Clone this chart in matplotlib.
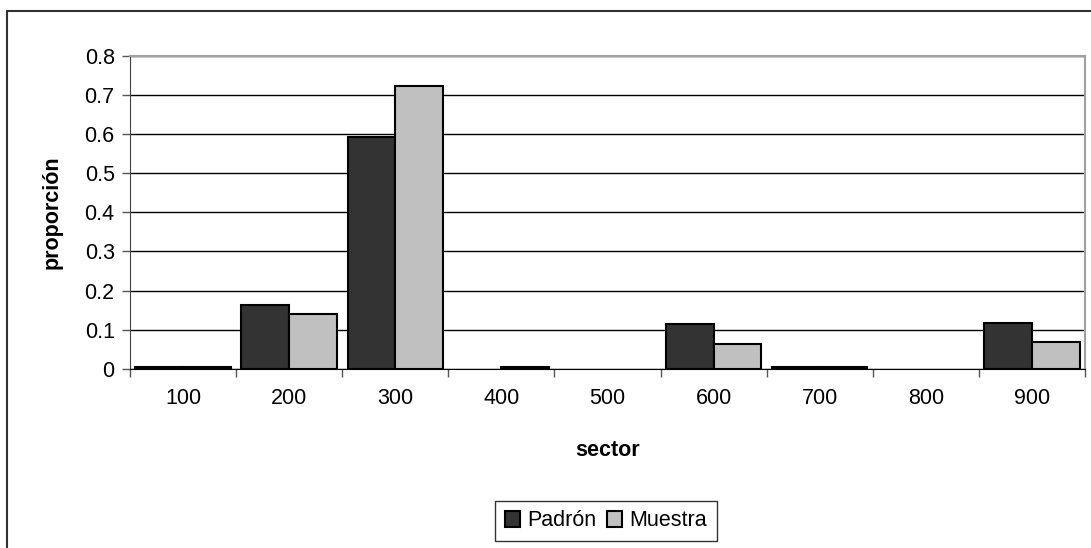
import matplotlib
matplotlib.use("Agg")
import matplotlib.pyplot as plt
import numpy as np
from matplotlib.patches import Rectangle

plt.rcParams['font.family'] = ['Liberation Sans', 'DejaVu Sans']

sectores = ['100', '200', '300', '400', '500', '600', '700', '800', '900']
padron = [0.004, 0.163, 0.591, 0.0, 0.0, 0.114, 0.004, 0.0, 0.118]
muestra = [0.004, 0.140, 0.722, 0.004, 0.0, 0.064, 0.004, 0.0, 0.069]

fig = plt.figure(figsize=(10.91, 5.48), dpi=100)
ax = fig.add_axes([130/1091, 1-369/548, 955/1091, 313.5/548])

x = np.arange(len(sectores))
w = 0.45
# no outline on empty bars
lw_p = [1.5 if v > 0 else 0 for v in padron]
lw_m = [1.5 if v > 0 else 0 for v in muestra]
ax.bar(x - w/2, padron, w, color='#333333', edgecolor='black', linewidth=lw_p,
       label='Padrón', zorder=3)
ax.bar(x + w/2, muestra, w, color='#c0c0c0', edgecolor='black', linewidth=lw_m,
       label='Muestra', zorder=3)

ax.set_xlim(-0.5, len(sectores) - 0.5)
ax.set_ylim(0, 0.8)
ax.set_yticks(np.arange(0, 0.81, 0.1))
ax.set_yticklabels(['0', '0.1', '0.2', '0.3', '0.4', '0.5', '0.6', '0.7', '0.8'])
ax.set_xticks(x)
ax.set_xticklabels(sectores)
ax.set_xticks(np.arange(-0.5, len(sectores)), minor=True)
ax.tick_params(axis='x', which='major', length=0, pad=14, labelsize=15.5)
ax.tick_params(axis='x', which='minor', length=6, width=1, color='#555555')
ax.tick_params(axis='y', length=6, width=1, color='#555555', labelsize=15.5, pad=5)
ax.yaxis.grid(True, color='black', linewidth=1, zorder=0)

for s in ['top', 'right']:
    ax.spines[s].set_color('#a0a0a0')
    ax.spines[s].set_linewidth(1.5)
ax.spines['left'].set_color('#404040')
ax.spines['bottom'].set_color('black')

ax.set_xlabel('sector', fontsize=15.5, fontweight='bold', labelpad=22)
ax.set_ylabel('proporción', fontsize=15.5, fontweight='bold', labelpad=16)

leg = fig.legend(loc='center', bbox_to_anchor=(606/1091, 1-521/548), ncol=2,
                 fontsize=15.5, frameon=True, fancybox=False, edgecolor='black',
                 handlelength=0.7, handleheight=0.7, handletextpad=0.35,
                 columnspacing=0.5, borderpad=0.45)
leg.get_frame().set_linewidth(1)

# outer chart border
fig.patches.append(Rectangle((7/1091, -0.1), 1.2, 1 - 11.5/548 + 0.1,
                             transform=fig.transFigure, fill=False,
                             edgecolor='#333333', linewidth=1.5))

fig.savefig('out.png', dpi=100)
